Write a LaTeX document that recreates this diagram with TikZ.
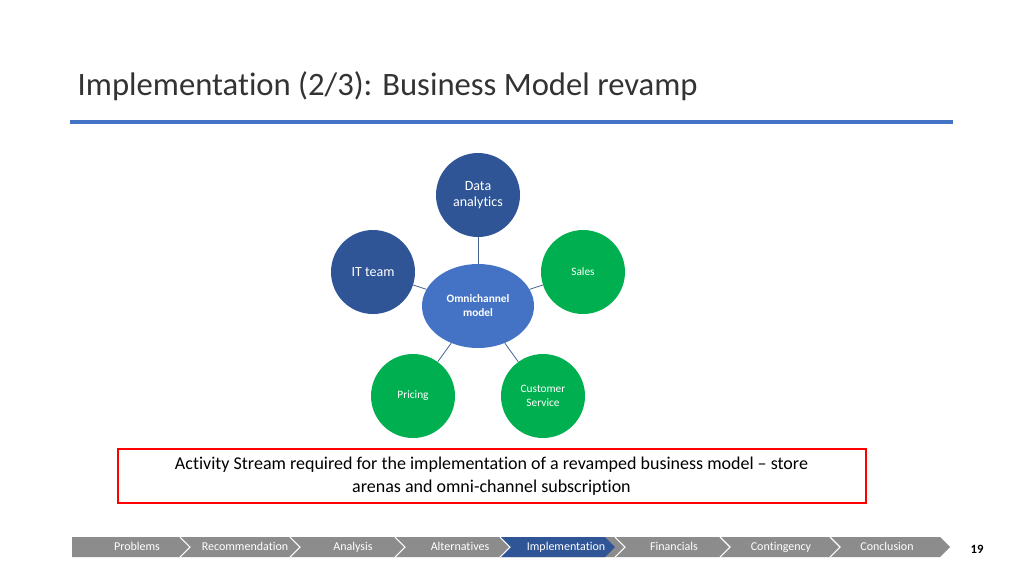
\documentclass[tikz,border=0pt]{standalone}
\usepackage{fontspec}
\setmainfont{Carlito}[Ligatures=NoCommon]
\usetikzlibrary{shapes.geometric}
\definecolor{dblue}{HTML}{2F5597}
\definecolor{mblue}{HTML}{4472C4}
\definecolor{ggreen}{HTML}{00B050}
\definecolor{lineblue}{HTML}{4472C4}
\definecolor{navgray}{HTML}{8C8C8C}
\definecolor{navblue}{HTML}{2F5597}
\tikzset{
  dcirc/.style={circle,minimum size=63pt,inner sep=0pt,text=white,align=center},
  bluec/.style={dcirc,fill=dblue,font=\fontsize{10.5}{12.5}\selectfont},
  greenc/.style={dcirc,fill=ggreen,font=\fontsize{8.5}{10.5}\selectfont},
  link/.style={draw=dblue!70!gray,line width=0.6pt},
  navtxt/.style={text=white,font=\fontsize{9}{10}\selectfont,text height=6.5pt,text depth=2pt}
}
\begin{document}
\begin{tikzpicture}[x=0.75pt,y=-0.75pt]
\useasboundingbox (0,0) rectangle (1024,576);
\fill[white] (0,0) rectangle (1024,576);
\node[anchor=west,font=\fontsize{24.5}{28}\selectfont,text=black!80] (title) at (73,86) {Implementation (2/3): Business Model revamp};
\draw[lineblue,line width=3pt] (70,122) -- (953,122);
% diagram
\node[ellipse,fill=mblue,minimum width=84pt,minimum height=63pt,inner sep=0pt,text=white,align=center,font=\bfseries\fontsize{8.5}{10.5}\selectfont] (om) at (478,306) {Omnichannel\\model};
\node[bluec] (da) at (478,195) {Data\\analytics};
\node[bluec] (it) at (373,272) {IT team};
\node[greenc] (sa) at (583,272) {Sales};
\node[greenc] (pr) at (413,396) {Pricing};
\node[greenc] (cs) at (543,396) {Customer\\Service};
\foreach \n in {da,it,sa,pr,cs} \draw[link] (om) -- (\n);
% red box
\node[draw=red,line width=1.5pt,minimum width=561pt,minimum height=41pt,align=center,font=\fontsize{13.5}{17}\selectfont] (box) at (491.5,476) {Activity Stream required for the implementation of a revamped business model -- store\\arenas and omni-channel subscription};
% nav bar
\fill[navgray] (72,537) -- (940,537) -- (950,547) -- (940,557) -- (72,557) -- cycle;
\fill[navblue] (500,537) -- (605,537) -- (615,547) -- (605,557) -- (500,557) -- (510,547) -- cycle;
\foreach \x in {180,290,395,500,615,720,830}{
  \draw[white,line width=0.8pt] (\x,537) -- (\x+10,547) -- (\x,557);
}
\node[navtxt] (n1) at (137,547) {Problems};
\node[navtxt] (n2) at (245,547) {Recommendation};
\node[navtxt] (n3) at (353,547) {Analysis};
\node[navtxt] (n4) at (460,547) {Alternatives};
\node[navtxt] (n5) at (566,547) {Implementation};
\node[navtxt] (n6) at (674,547) {Financials};
\node[navtxt] (n7) at (781,547) {Contingency};
\node[navtxt] (n8) at (887,547) {Conclusion};
\node[font=\bfseries\fontsize{9.5}{10}\selectfont] (pg) at (977,549) {19};
\end{tikzpicture}
\end{document}
